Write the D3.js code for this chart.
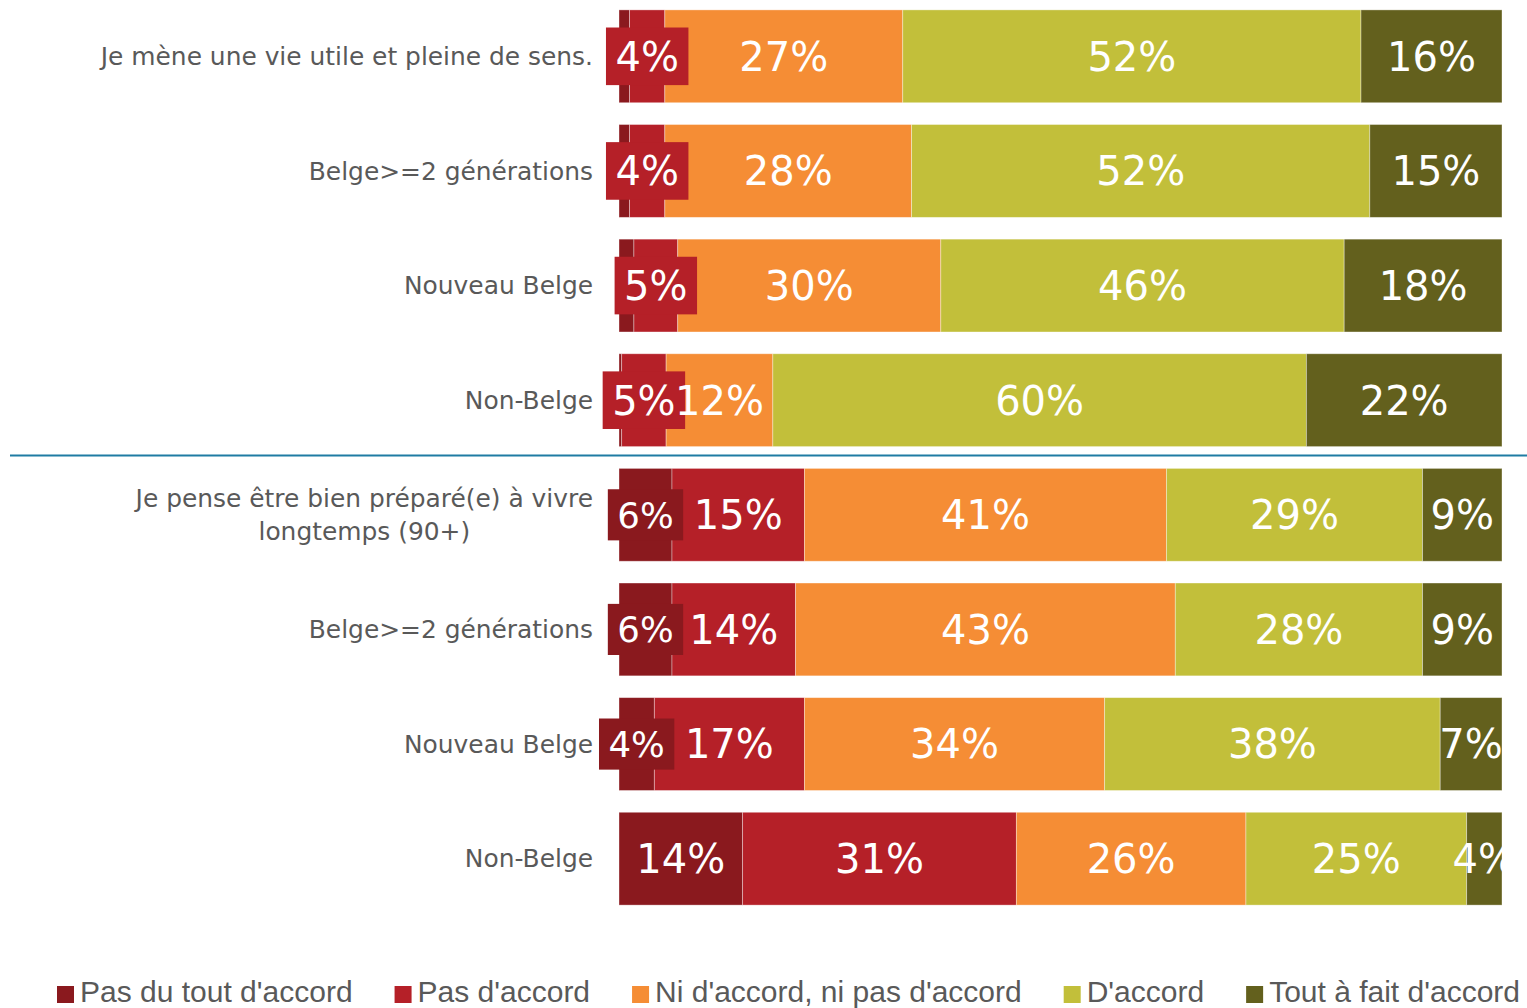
<!DOCTYPE html>
<html>
<head>
<meta charset="utf-8">
<script src="https://cdn.jsdelivr.net/npm/d3@7"></script>
<style>
  html, body { margin: 0; padding: 0; background: #fff; }
  svg { display: block; }
</style>
</head>
<body>
<svg id="chart" width="1527" height="1008"></svg>
<script>
// Row labels (a "\n" splits a label over two lines)
const categories = [
  "Je mène une vie utile et pleine de sens.",
  "Belge>=2 générations",
  "Nouveau Belge",
  "Non-Belge",
  "Je pense être bien préparé(e) à vivre\nlongtemps (90+)",
  "Belge>=2 générations",
  "Nouveau Belge",
  "Non-Belge"
];

// Answer shares per row, in %
const pasDuToutDaccord = [1.2, 1.2, 1.7, 0.3, 6, 6, 4, 14];
const pasDaccord       = [4, 4, 5, 5, 15, 14, 17, 31];
const niNi             = [27, 28, 30, 12, 41, 43, 34, 26];
const daccord          = [52, 52, 46, 60, 29, 28, 38, 25];
const toutAFait        = [16, 15, 18, 22, 9, 9, 7, 4];

const seriesNames = [
  "Pas du tout d'accord",
  "Pas d'accord",
  "Ni d'accord, ni pas d'accord",
  "D'accord",
  "Tout à fait d'accord"
];
const seriesValues = [pasDuToutDaccord, pasDaccord, niNi, daccord, toutAFait];
const colors = ["#8a191e", "#b52028", "#f58d35", "#c2bf3a", "#63601d"];

const svg = d3.select("#chart");
const W = 1527, H = 1008;
const plotLeft = 619, plotRight = 1502;

const rows = categories.map((c, i) => {
  const row = { idx: i, label: c };
  seriesValues.forEach((s, k) => { row["s" + k] = s[i]; });
  return row;
});
const keys = seriesValues.map((s, k) => "s" + k);

// normalise each row to 100 %
const normRows = rows.map(r => {
  const tot = d3.sum(keys, k => r[k]);
  const o = { idx: r.idx, label: r.label };
  keys.forEach(k => { o[k] = r[k] / tot; o[k + "_raw"] = r[k]; });
  return o;
});

const stacked = d3.stack().keys(keys)(normRows);

const x = d3.scaleLinear().domain([0, 1]).range([plotLeft, plotRight]);
const y = d3.scaleBand()
  .domain(d3.range(categories.length))
  .range([-1, 916])
  .paddingInner(0.19)
  .paddingOuter(0.095);

const defs = svg.append("defs");
defs.append("clipPath").attr("id", "plotClip")
  .append("rect").attr("x", 0).attr("y", 0).attr("width", plotRight).attr("height", H);

// bars
const barG = svg.append("g");
stacked.forEach((layer, k) => {
  barG.selectAll(null)
    .data(layer)
    .join("rect")
    .attr("x", d => x(d[0]))
    .attr("y", (d, i) => y(i))
    .attr("width", d => Math.max(0, x(d[1]) - x(d[0])))
    .attr("height", y.bandwidth())
    .attr("fill", colors[k])
    .attr("stroke", "rgba(255,255,255,0.45)")
    .attr("stroke-width", 0.8);
});

// separator between the two statements
const sepY = (y(3) + y.bandwidth() + y(4)) / 2 - 2;
svg.append("line")
  .attr("x1", 10).attr("x2", W)
  .attr("y1", sepY).attr("y2", sepY)
  .attr("stroke", "#1f7ca3").attr("stroke-width", 2);

// value labels
const labelFont = "'DejaVu Sans', sans-serif";
const labG = svg.append("g").attr("clip-path", "url(#plotClip)");
stacked.forEach((layer, k) => {
  layer.forEach((d, i) => {
    const raw = d.data["s" + k + "_raw"];
    if (raw < 3) return;
    const cx = (x(d[0]) + x(d[1])) / 2;
    const cy = y(i) + y.bandwidth() / 2;
    const boxed = k < 2 && raw < 7;
    const fs = boxed && i >= 4 ? 35.5 : 40;
    const g = labG.append("g");
    const rect = g.append("rect").attr("fill", colors[k]);
    const t = g.append("text")
      .attr("x", cx).attr("y", cy)
      .attr("dy", "0.36em")
      .attr("text-anchor", "middle")
      .attr("font-family", labelFont)
      .attr("font-size", fs)
      .attr("fill", "#fff")
      .text(Math.round(raw) + "%");
    if (boxed) {
      const tw = t.node().getComputedTextLength();
      const bw = tw + 19, bh = fs * 1.44;
      rect.attr("x", cx - bw / 2).attr("y", cy - bh / 2)
        .attr("width", bw).attr("height", bh);
    } else {
      rect.remove();
    }
  });
});

// category labels
const catFs = 24.9;
const catG = svg.append("g");
categories.forEach((c, i) => {
  const lines = c.split("\n");
  const cy = y(i) + y.bandwidth() / 2;
  const lh = 33;
  const t = catG.append("text")
    .attr("font-family", labelFont)
    .attr("font-size", catFs)
    .attr("fill", "#595959")
    .attr("text-anchor", lines.length > 1 ? "middle" : "end");
  if (lines.length === 1) {
    t.attr("x", 593).attr("y", cy).attr("dy", "0.35em").text(c);
  } else {
    // measure widest line to right-align the centred block
    const tmp = catG.append("text").attr("font-family", labelFont).attr("font-size", catFs).text(lines[0]);
    const w0 = tmp.node().getComputedTextLength();
    tmp.remove();
    const mid = 593 - w0 / 2;
    lines.forEach((ln, j) => {
      t.append("tspan")
        .attr("x", mid)
        .attr("y", cy + (j - (lines.length - 1) / 2) * lh)
        .attr("dy", "0.35em")
        .text(ln);
    });
  }
});

// legend: spread the entries between x=57 and x=1520
const legG = svg.append("g");
const legY = 1002, legStart = 57, legEnd = 1520, sw = 17, tg = 23;
const items = seriesNames.map((name, k) => {
  const g = legG.append("g");
  g.append("rect")
    .attr("y", legY - 16)
    .attr("width", sw).attr("height", sw)
    .attr("fill", colors[k]);
  const t = g.append("text")
    .attr("x", tg).attr("y", legY)
    .attr("font-family", "'Liberation Sans', Arial, sans-serif")
    .attr("font-size", 30)
    .attr("fill", "#595959")
    .text(name);
  return { g, w: tg + t.node().getComputedTextLength() };
});
const gap = (legEnd - legStart - d3.sum(items, d => d.w)) / (items.length - 1);
let lx = legStart;
items.forEach(it => {
  it.g.attr("transform", `translate(${lx},0)`);
  lx += it.w + gap;
});
</script>
</body>
</html>
